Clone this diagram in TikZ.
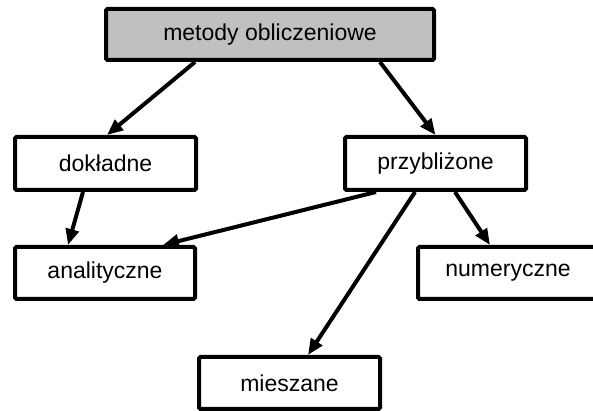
\documentclass[tikz,border=0pt]{standalone}
\usepackage{fontspec}
\setmainfont{Liberation Sans}
\usetikzlibrary{arrows.meta}
\definecolor{boxgray}{RGB}{192,192,192}
\begin{document}
\begin{tikzpicture}[x=1pt,y=1pt,
  box/.style={draw=black, line width=4pt, rounded corners=1.5pt, fill=white,
    inner sep=0pt, font=\fontsize{23}{27}\selectfont},
  conn/.style={line width=4pt, -{Triangle[length=16pt,width=13pt]}}]
\clip (0,0) rectangle (593,411);
\fill[white] (0,0) rectangle (593,411);
\node[box, fill=boxgray, minimum width=328pt, minimum height=51pt] (top) at (270,376.5) {metody obliczeniowe};
\node[box, minimum width=181pt, minimum height=53pt] (dok) at (105.5,247.5) {dokładne};
\node[box, minimum width=181pt, minimum height=53pt] (prz) at (435.5,247.5) {przybliżone};
\node[box, minimum width=180pt, minimum height=52pt] (ana) at (105,138) {analityczne};
\node[box, minimum width=180pt, minimum height=52pt] (num) at (508,138) {numeryczne};
\node[box, minimum width=181pt, minimum height=52pt] (mie) at (289.5,28) {mieszane};
\draw[conn] ([xshift=-75pt]top.south) -- ([xshift=1.5pt]dok.north);
\draw[conn] ([xshift=110pt]top.south) -- (prz.north);
\draw[conn] ([xshift=-22.5pt]dok.south) -- ([xshift=-37pt]ana.north);
\draw[conn] ([xshift=-59.5pt]prz.south) -- ([xshift=58pt]ana.north);
\draw[conn] ([xshift=-20.5pt]prz.south) -- ([xshift=18.5pt]mie.north);
\draw[conn] ([xshift=19.5pt]prz.south) -- ([xshift=-18pt]num.north);
\end{tikzpicture}
\end{document}
